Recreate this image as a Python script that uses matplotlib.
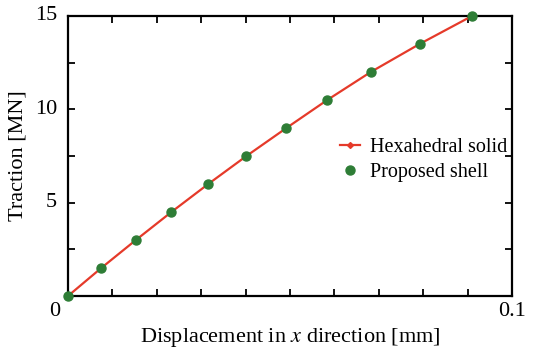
import matplotlib
matplotlib.use("Agg")
import matplotlib.pyplot as plt
from matplotlib.ticker import MultipleLocator, NullFormatter
from matplotlib.transforms import blended_transform_factory

plt.rcParams['font.family'] = ['Liberation Serif', 'DejaVu Serif']
plt.rcParams['mathtext.fontset'] = 'stix'

# Load–displacement data (displacement in mm, traction in MN)
disp_solid = [0.0, 0.0075, 0.0153, 0.0233, 0.0316, 0.0402, 0.0492, 0.0584, 0.0682, 0.0792, 0.091]
trac_solid = [0.0, 1.5, 3.0, 4.5, 6.0, 7.5, 9.0, 10.5, 12.0, 13.5, 15.0]
disp_shell = [0.0, 0.0075, 0.0153, 0.0233, 0.0316, 0.0402, 0.0492, 0.0584, 0.0682, 0.0792, 0.091]
trac_shell = [0.0, 1.5, 3.0, 4.5, 6.0, 7.5, 9.0, 10.5, 12.0, 13.5, 15.0]

y_labels = [5, 10, 15]
x_labels = [(0.0, '0'), (0.1, '0.1')]

red = '#e53a2a'
green = '#2e7d36'

fig = plt.figure(figsize=(5.34, 3.55), dpi=100)
ax = fig.add_axes([0.1273, 0.1662, 0.8315, 0.7888])

ax.plot(disp_solid, trac_solid, color=red, lw=1.6, marker='D', ms=3,
        label='Hexahedral solid', zorder=2, clip_on=False)
ax.plot(disp_shell, trac_shell, linestyle='none', marker='o', ms=6.5,
        color=green, label='Proposed shell', zorder=3, clip_on=False)

ax.set_xlim(0, 0.1)
ax.set_ylim(0, 15)

ax.xaxis.set_major_locator(MultipleLocator(0.01))
ax.xaxis.set_major_formatter(NullFormatter())
ax.yaxis.set_major_locator(MultipleLocator(2.5))
ax.yaxis.set_major_formatter(NullFormatter())
ax.tick_params(which='both', direction='in', top=True, right=True,
               length=5, width=1.3)

for s in ax.spines.values():
    s.set_linewidth(1.6)

fs = 16
ytr = blended_transform_factory(ax.transAxes, ax.transData)
for v in y_labels:
    ax.text(-0.025, v, str(v), transform=ytr, ha='right',
            va='center', fontsize=fs, clip_on=False)
xtr = blended_transform_factory(ax.transData, ax.transAxes)
for xv, txt in x_labels:
    dx = -0.003 if xv == 0 else 0.0
    ax.text(xv + dx, -0.055, txt, transform=xtr, ha='center', va='center',
            fontsize=fs, clip_on=False)

ax.set_xlabel(r'Displacement in $\it{x}$ direction [mm]', fontsize=fs, labelpad=18)
ax.set_ylabel('Traction [MN]', fontsize=fs, labelpad=26)

ax.legend(loc='center left', bbox_to_anchor=(0.613, 0.486), frameon=False,
          fontsize=14.5, handlelength=1.0, handletextpad=0.5, labelspacing=0.3,
          borderpad=0, borderaxespad=0)

fig.savefig('out.png', dpi=100)
